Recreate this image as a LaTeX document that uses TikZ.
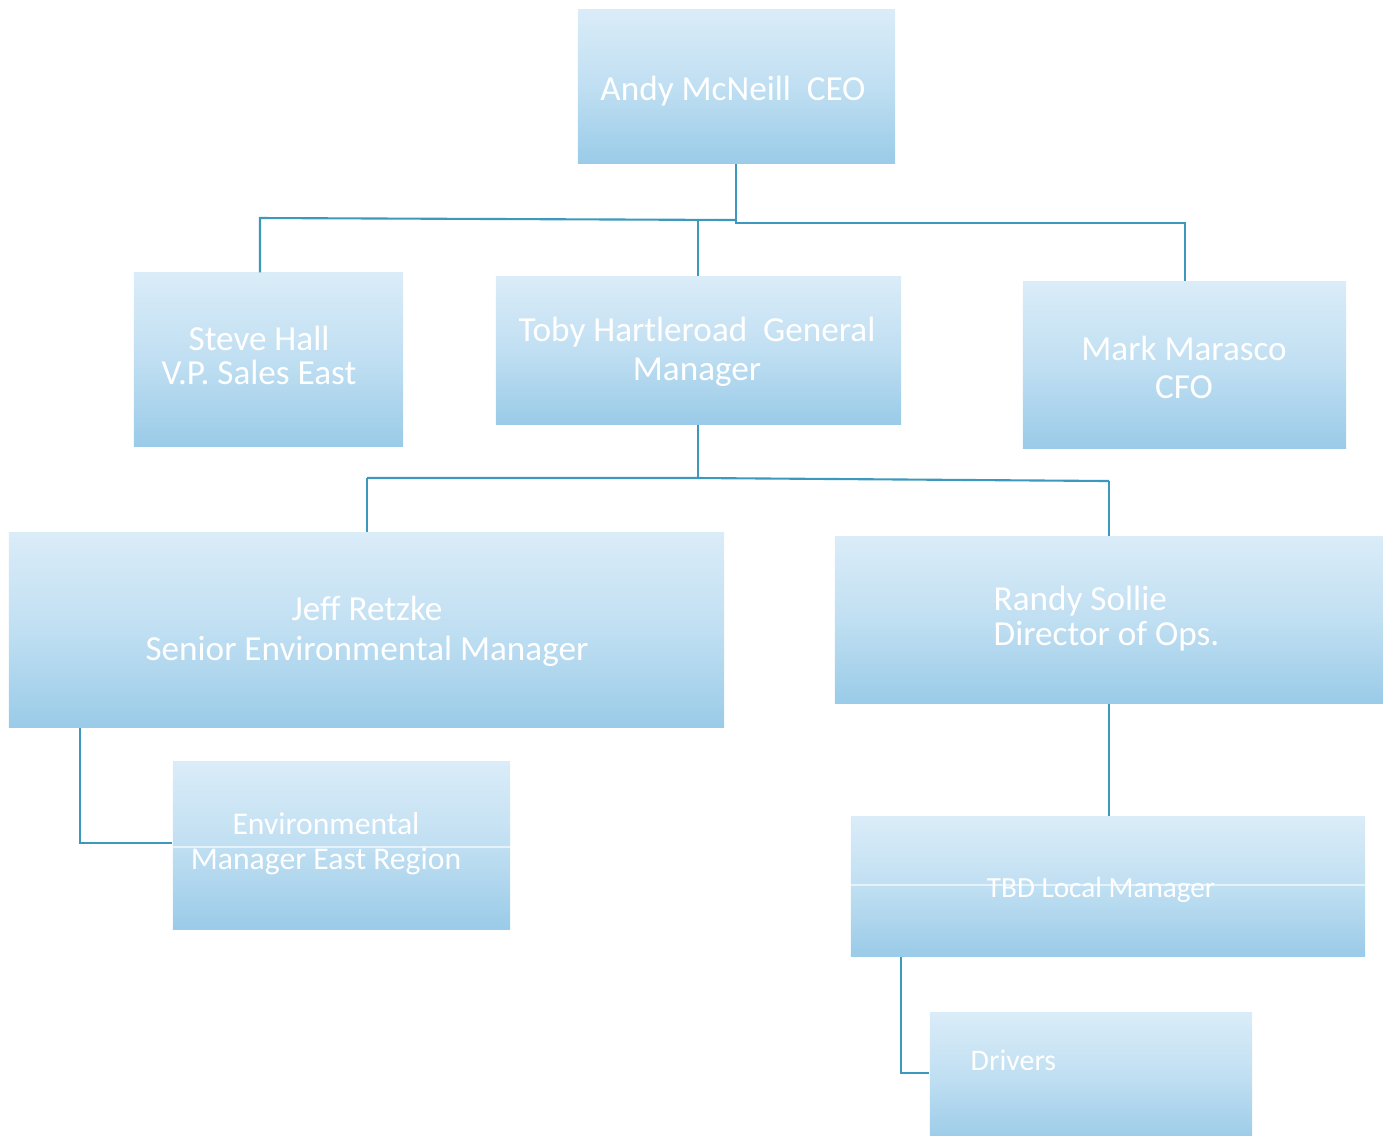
\documentclass[tikz,border=0pt]{standalone}
\usepackage{fontspec}
\setmainfont{Carlito}
\definecolor{boxtop}{HTML}{DAECF8}
\definecolor{boxmid}{HTML}{C0DFF2}
\definecolor{boxbot}{HTML}{9ACBE8}
\definecolor{connc}{HTML}{3E98BE}
\tikzset{
  orgbox/.style={rectangle, inner sep=0pt, draw=none, top color=boxtop, bottom color=boxbot, middle color=boxmid},
  lbl/.style={text=white, inner sep=0pt, font=\fontsize{10pt}{11pt}\selectfont},
  conn/.style={draw=connc, line width=0.6pt},
  sepline/.style={draw=white, opacity=0.6, line width=0.5pt}
}
\begin{document}
\begin{tikzpicture}[x=0.01cm, y=-0.01cm]
\useasboundingbox (0,0) rectangle (1383,1135);
\clip (0,0) rectangle (1383,1135);
% boxes
\node[orgbox, minimum width=3.17cm, minimum height=1.53cm] (ceo) at (736.5,86.5) {};
\node[orgbox, minimum width=2.69cm, minimum height=1.73cm] (steve) at (268.5,359.5) {};
\node[orgbox, minimum width=4.05cm, minimum height=1.47cm] (toby) at (698.5,350.5) {};
\node[orgbox, minimum width=3.23cm, minimum height=1.66cm] (mark) at (1184.5,365) {};
\node[orgbox, minimum width=7.15cm, minimum height=1.94cm] (jeff) at (366.5,630) {};
\node[orgbox, minimum width=5.48cm, minimum height=1.66cm] (randy) at (1109,620) {};
\node[orgbox, minimum width=3.37cm, minimum height=1.67cm] (env) at (341.5,845.5) {};
\node[orgbox, minimum width=5.14cm, minimum height=1.39cm] (tbd) at (1108,886.5) {};
\node[orgbox, minimum width=3.22cm, minimum height=1.30cm] (drivers) at (1091,1077) {};
% faint separator lines
\draw[sepline] (env.west |- 0,847) -- (env.east |- 0,847);
\draw[sepline] (tbd.west |- 0,885) -- (tbd.east |- 0,885);
% labels
\node[lbl, align=center] (tceo) at (733,91) {Andy McNeill\ \ CEO};
\node[lbl, align=center, font=\fontsize{10pt}{9.7pt}\selectfont] (tsteve) at (259,355) {Steve Hall\\V.P. Sales East};
\node[lbl, align=center, font=\fontsize{10pt}{11.1pt}\selectfont] (ttoby) at (697,352) {Toby Hartleroad\ \ General\\Manager};
\node[lbl, align=center, font=\fontsize{10pt}{10.8pt}\selectfont] (tmark) at (1184,367) {Mark Marasco\\CFO};
\node[lbl, align=center, font=\fontsize{10pt}{11.4pt}\selectfont] (tjeff) at (367,631) {Jeff Retzke\\Senior Environmental Manager};
\node[lbl, align=left, anchor=west, font=\fontsize{10pt}{10pt}\selectfont] (trandy) at (993,619) {Randy Sollie\\Director of Ops.};
\node[lbl, align=center, font=\fontsize{9pt}{10pt}\selectfont] (tenv) at (326,844) {Environmental\\Manager East Region};
\node[lbl, font=\fontsize{8.3pt}{10pt}\selectfont] (ttbd) at (1101,890) {TBD Local Manager};
\node[lbl, anchor=west, font=\fontsize{8.5pt}{10pt}\selectfont] (tdrv) at (970,1060) {Drivers};
% connectors: top level
\coordinate (b0) at (736,220);
\coordinate (bl) at (260,218);
\coordinate (bm) at (698,219);
\coordinate (br) at (1185,223);
\draw[conn] (ceo.south -| b0) -- (b0) -- (736,223) -- (br) -- (br |- mark.north);
\draw[conn] (b0) -- (bl) -- (bl |- steve.north);
\draw[conn] (bm) -- (bm |- toby.north);
% second level
\coordinate (c0) at (698,478);
\coordinate (cl) at (367,478);
\coordinate (cr) at (1109,481);
\draw[conn] (toby.south -| c0) -- (c0);
\draw[conn] (cl) -- (c0) -- (cr);
\draw[conn] (cl) -- (cl |- jeff.north);
\draw[conn] (cr) -- (cr |- randy.north);
% jeff -> env
\coordinate (j0) at (80,843);
\draw[conn] (jeff.south -| j0) -- (j0) -- (j0 -| env.west);
% randy -> tbd
\draw[conn] (randy.south) -- (randy.south |- tbd.north);
% tbd -> drivers
\coordinate (d0) at (901,1073);
\draw[conn] (tbd.south -| d0) -- (d0) -- (d0 -| drivers.west);
\end{tikzpicture}
\end{document}
